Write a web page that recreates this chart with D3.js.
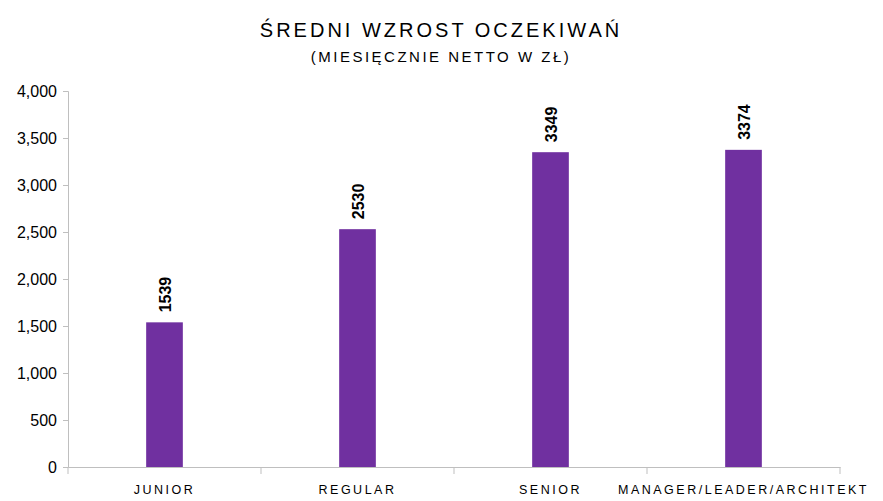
<!DOCTYPE html>
<html><head><meta charset="utf-8">
<script src="https://cdn.jsdelivr.net/npm/d3@7/dist/d3.min.js"></script>
<style>body{margin:0;background:#fff;font-family:"Liberation Sans",Arial,sans-serif}</style>
</head><body><svg id="c" width="883" height="501"></svg>
<script>
const categories=["JUNIOR","REGULAR","SENIOR","MANAGER/LEADER/ARCHITEKT"];
const values=[1539,2530,3349,3374];
const yTicks=[0,500,1000,1500,2000,2500,3000,3500,4000];
const svg=d3.select("#c");
const m={l:68,r:840,t:91,b:467};
const x=d3.scaleBand().domain(categories).range([m.l,m.r]).paddingInner(0.81).paddingOuter(0.405);
const y=d3.scaleLinear().domain([0,4000]).range([m.b,m.t]);
svg.append("text").attr("x",441).attr("y",37).attr("text-anchor","middle").attr("font-size",20).attr("letter-spacing",3).attr("fill","#000").text("ŚREDNI WZROST OCZEKIWAŃ");
svg.append("text").attr("x",441).attr("y",62).attr("text-anchor","middle").attr("font-size",15).attr("letter-spacing",2.5).attr("fill","#000").text("(MIESIĘCZNIE NETTO W ZŁ)");
const ya=svg.append("g").attr("transform",`translate(${m.l},0)`).call(d3.axisLeft(y).tickValues(yTicks).tickSize(5).tickPadding(6));
ya.selectAll("text").attr("font-size",16).attr("fill","#000").attr("font-family","Liberation Sans, Arial");
ya.selectAll("line,path").attr("stroke","#bfbfbf");
const xa=svg.append("g").attr("transform",`translate(0,${m.b})`).call(d3.axisBottom(x).tickSize(0).tickPadding(18));
xa.selectAll("text").attr("font-size",12.5).attr("letter-spacing",2.5).attr("fill","#000").attr("font-family","Liberation Sans, Arial");
xa.select("path").attr("stroke","#bfbfbf");
const step=x.step();
const bounds=d3.range(categories.length+1).map(i=>m.l+i*step);
svg.selectAll(".xt").data(bounds).enter().append("line").attr("x1",d=>d).attr("x2",d=>d).attr("y1",m.b).attr("y2",m.b+7).attr("stroke","#bfbfbf");
svg.selectAll(".bar").data(values).enter().append("rect")
 .attr("x",(d,i)=>x(categories[i])).attr("width",x.bandwidth())
 .attr("y",d=>y(d)).attr("height",d=>m.b-y(d)).attr("fill","#7030A0");
svg.selectAll(".lbl").data(values).enter().append("text")
 .attr("transform",(d,i)=>`translate(${x(categories[i])+x.bandwidth()/2+6},${y(d)-10}) rotate(-90)`)
 .attr("font-size",16).attr("font-weight","bold").attr("fill","#000").text(d=>d);
</script></body></html>
